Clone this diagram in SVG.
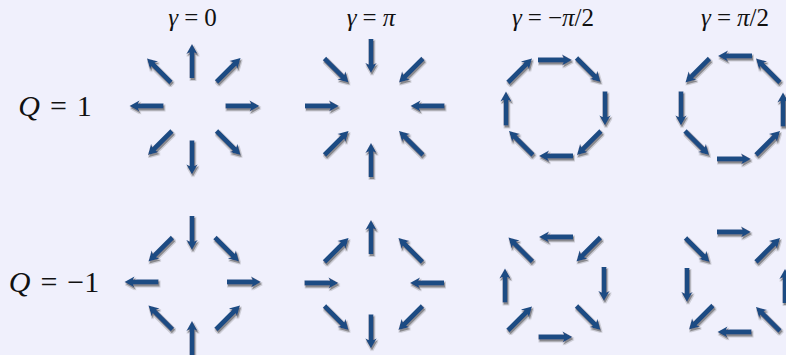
<svg xmlns="http://www.w3.org/2000/svg" width="786" height="355" viewBox="0 0 786 355">
<style>
text{font-family:"Liberation Serif","Times New Roman",serif;fill:#111;}
.g{font-size:25px;}
.q{font-size:30px;}
.it{font-style:italic;}
.arr{fill:#1e4c83;}
</style>
<defs>
<path id="a" class="arr" d="M-17,-2.4 L8.5,-2.4 L7,-5.6 L17,0 L7,5.6 L8.5,2.4 L-17,2.4 Z"/>
<filter id="shd" x="-10%" y="-10%" width="125%" height="125%">
<feOffset in="SourceAlpha" dx="1.4" dy="1.8" result="o"/>
<feMorphology in="o" operator="dilate" radius="1" result="od"/>
<feFlood flood-color="#cdcdd6" result="c1"/>
<feComposite in="c1" in2="od" operator="in" result="halo"/>
<feFlood flood-color="#8a8a8e" result="c2"/>
<feComposite in="c2" in2="o" operator="in" result="sh"/>
<feMerge><feMergeNode in="halo"/><feMergeNode in="sh"/><feMergeNode in="SourceGraphic"/></feMerge>
</filter>
</defs>
<rect width="786" height="355" fill="#f0f0fc"/>

<g id="labels">
<text class="g" x="192.5" y="26" text-anchor="middle"><tspan class="it">γ</tspan><tspan dx="6">=</tspan><tspan dx="6">0</tspan></text>
<text class="g" x="371" y="26" text-anchor="middle"><tspan class="it">γ</tspan><tspan dx="6">=</tspan><tspan dx="6" class="it">π</tspan></text>
<text class="g" x="553" y="26" text-anchor="middle"><tspan class="it">γ</tspan><tspan dx="6">=</tspan><tspan dx="6">−</tspan><tspan class="it">π</tspan>/2</text>
<text class="g" x="735" y="26" text-anchor="middle"><tspan class="it">γ</tspan><tspan dx="6">=</tspan><tspan dx="6" class="it">π</tspan>/2</text>
<text class="q" x="55" y="116" text-anchor="middle"><tspan class="it">Q</tspan><tspan dx="10">=</tspan><tspan dx="10">1</tspan></text>
<text class="q" x="54" y="292" text-anchor="middle"><tspan class="it">Q</tspan><tspan dx="10">=</tspan><tspan dx="10">−1</tspan></text>
</g>

<g id="panel-q1-g0" filter="url(#shd)">
<use href="#a" transform="translate(192,61) rotate(-90)"/>
<use href="#a" transform="translate(228.5,70) rotate(-45)"/>
<use href="#a" transform="translate(242.5,106) rotate(0)"/>
<use href="#a" transform="translate(228.5,143) rotate(45)"/>
<use href="#a" transform="translate(192,157.5) rotate(90)"/>
<use href="#a" transform="translate(160,143) rotate(135)"/>
<use href="#a" transform="translate(146.5,106) rotate(180)"/>
<use href="#a" transform="translate(159,70.5) rotate(-135)"/>
</g>

<g id="panel-q1-gpi" filter="url(#shd)">
<use href="#a" transform="translate(371,56) rotate(90)"/>
<use href="#a" transform="translate(411,70.5) rotate(135)"/>
<use href="#a" transform="translate(427.5,106) rotate(180)"/>
<use href="#a" transform="translate(411,143) rotate(-135)"/>
<use href="#a" transform="translate(371,160) rotate(-90)"/>
<use href="#a" transform="translate(336.5,143) rotate(-45)"/>
<use href="#a" transform="translate(322,106) rotate(0)"/>
<use href="#a" transform="translate(336.5,70.5) rotate(45)"/>
</g>

<g id="panel-q1-gmhalfpi" filter="url(#shd)">
<use href="#a" transform="translate(555,60) rotate(0)"/>
<use href="#a" transform="translate(588.5,70) rotate(45)"/>
<use href="#a" transform="translate(605,108.5) rotate(90)"/>
<use href="#a" transform="translate(589,143) rotate(135)"/>
<use href="#a" transform="translate(556,156) rotate(180)"/>
<use href="#a" transform="translate(521,143) rotate(-135)"/>
<use href="#a" transform="translate(506,108.5) rotate(-90)"/>
<use href="#a" transform="translate(520,70.5) rotate(-45)"/>
</g>

<g id="panel-q1-ghalfpi" filter="url(#shd)">
<use href="#a" transform="translate(735,56) rotate(180)"/>
<use href="#a" transform="translate(697.5,70.5) rotate(135)"/>
<use href="#a" transform="translate(681,108.5) rotate(90)"/>
<use href="#a" transform="translate(697,143) rotate(45)"/>
<use href="#a" transform="translate(734,159) rotate(0)"/>
<use href="#a" transform="translate(768,143) rotate(-45)"/>
<use href="#a" transform="translate(783,109.5) rotate(-90)"/>
<use href="#a" transform="translate(768,70.5) rotate(-135)"/>
</g>

<g id="panel-qm1-g0" filter="url(#shd)">
<use href="#a" transform="translate(192,233) rotate(90)"/>
<use href="#a" transform="translate(227,249.5) rotate(45)"/>
<use href="#a" transform="translate(244,282) rotate(0)"/>
<use href="#a" transform="translate(228,317.5) rotate(-45)"/>
<use href="#a" transform="translate(192,338) rotate(-90)"/>
<use href="#a" transform="translate(160.5,317.5) rotate(-135)"/>
<use href="#a" transform="translate(141.5,282) rotate(180)"/>
<use href="#a" transform="translate(160.5,249.5) rotate(135)"/>
</g>

<g id="panel-qm1-gpi" filter="url(#shd)">
<use href="#a" transform="translate(371,237) rotate(-90)"/>
<use href="#a" transform="translate(410.5,250) rotate(-135)"/>
<use href="#a" transform="translate(427,283) rotate(180)"/>
<use href="#a" transform="translate(410.5,318) rotate(135)"/>
<use href="#a" transform="translate(371,331.5) rotate(90)"/>
<use href="#a" transform="translate(336.5,318) rotate(45)"/>
<use href="#a" transform="translate(321.5,283) rotate(0)"/>
<use href="#a" transform="translate(336.5,250) rotate(-45)"/>
</g>

<g id="panel-qm1-gmhalfpi" filter="url(#shd)">
<use href="#a" transform="translate(556,237) rotate(180)"/>
<use href="#a" transform="translate(588.5,249.5) rotate(135)"/>
<use href="#a" transform="translate(604,284) rotate(90)"/>
<use href="#a" transform="translate(588.5,318) rotate(45)"/>
<use href="#a" transform="translate(555.5,337) rotate(0)"/>
<use href="#a" transform="translate(520,318.5) rotate(-45)"/>
<use href="#a" transform="translate(505,285.5) rotate(-90)"/>
<use href="#a" transform="translate(520.5,249.5) rotate(-135)"/>
</g>

<g id="panel-qm1-ghalfpi" filter="url(#shd)">
<use href="#a" transform="translate(734,232) rotate(0)"/>
<use href="#a" transform="translate(768,250) rotate(-45)"/>
<use href="#a" transform="translate(785,286) rotate(-90)"/>
<use href="#a" transform="translate(768,319) rotate(-135)"/>
<use href="#a" transform="translate(734.5,332) rotate(180)"/>
<use href="#a" transform="translate(701,317.5) rotate(135)"/>
<use href="#a" transform="translate(687,285) rotate(90)"/>
<use href="#a" transform="translate(697.5,250) rotate(45)"/>
</g>
</svg>
